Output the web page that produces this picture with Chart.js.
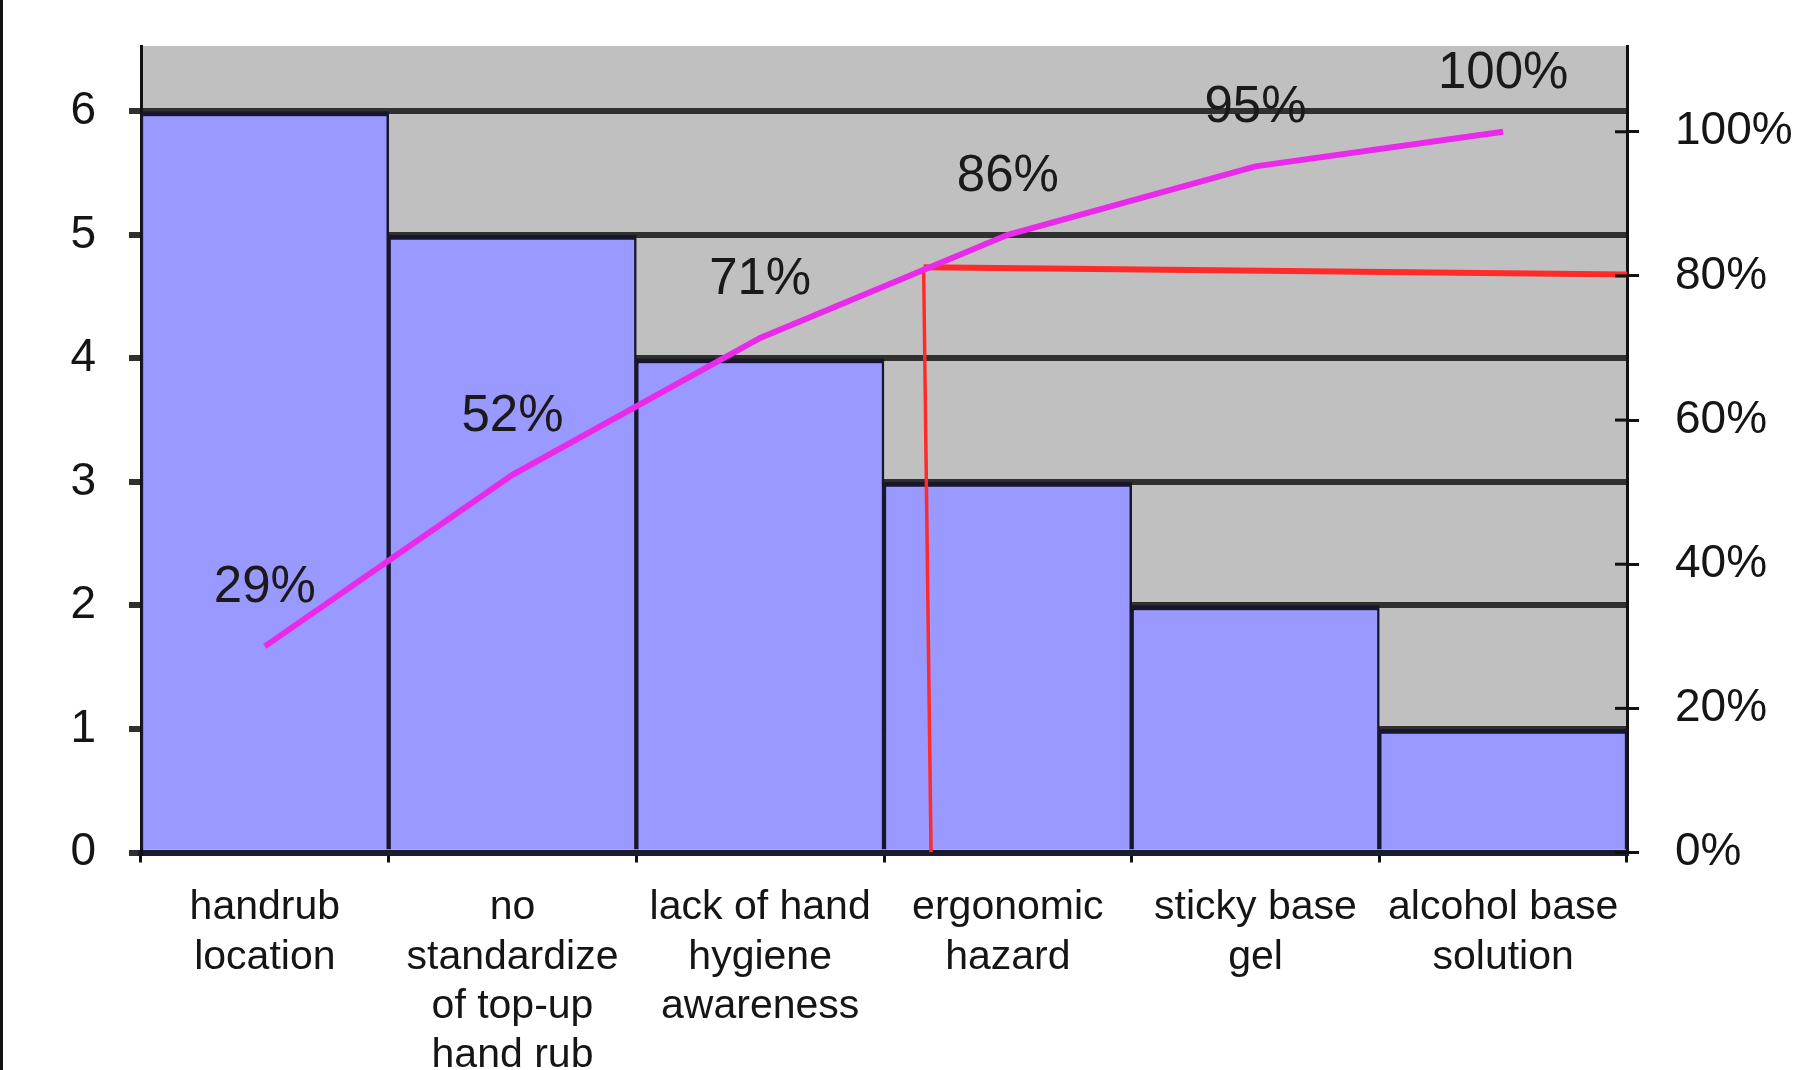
<!DOCTYPE html>
<html>
<head>
<meta charset="utf-8">
<script src="https://cdn.jsdelivr.net/npm/chart.js@4"></script>
<style>
  html, body { margin: 0; padding: 0; background: #ffffff; }
  #wrap { position: relative; width: 1799px; height: 1070px; overflow: hidden; }
  #edge { position: absolute; left: 0; top: 0; width: 3px; height: 1070px; background: #111; }
</style>
</head>
<body>
<div id="wrap">
  <canvas id="c" width="1799" height="1070"></canvas>
  <div id="edge"></div>
</div>
<script>
// ---- data ----
const categories = [
  ["handrub", "location"],
  ["no", "standardize", "of top-up", "hand rub"],
  ["lack of hand", "hygiene", "awareness"],
  ["ergonomic", "hazard"],
  ["sticky base", "gel"],
  ["alcohol base", "solution"]
];
const counts = [6, 5, 4, 3, 2, 1];
const cumulativePct = [28.6, 52.4, 71.4, 85.7, 95.2, 100];
const pctLabels = ["29%", "52%", "71%", "86%", "95%", "100%"];
const cutoffLine = [ {x: 2.69, y: 0}, {x: 2.66, y: 81.2}, {x: 5.5, y: 80.2} ];
const leftTicks = [0, 1, 2, 3, 4, 5, 6];
const rightTicks = [0, 20, 40, 60, 80, 100];

const FONT = "'Liberation Sans', Arial, sans-serif";

const plotBg = {
  id: 'plotBg',
  beforeDraw(chart) {
    const a = chart.chartArea, ctx = chart.ctx;
    ctx.save();
    ctx.fillStyle = '#c0c0c0';
    ctx.fillRect(a.left, a.top, a.right - a.left, a.bottom - a.top);
    ctx.restore();
  }
};

// inner half of the crossing tick marks on the right axis
const innerTicks = {
  id: 'innerTicks',
  afterDatasetsDraw(chart) {
    const s = chart.scales.y2, ctx = chart.ctx;
    ctx.save();
    ctx.strokeStyle = '#111';
    ctx.lineWidth = 3;
    s.ticks.forEach(t => {
      const y = s.getPixelForValue(t.value);
      ctx.beginPath();
      ctx.moveTo(s.left - 12, y);
      ctx.lineTo(s.left, y);
      ctx.stroke();
    });
    ctx.restore();
  }
};

const pctLabelPlugin = {
  id: 'pctLabels',
  afterDatasetsDraw(chart) {
    const meta = chart.getDatasetMeta(1);
    const ctx = chart.ctx;
    ctx.save();
    ctx.font = '51px ' + FONT;
    ctx.fillStyle = '#1a1a1a';
    ctx.textAlign = 'center';
    ctx.textBaseline = 'middle';
    meta.data.forEach((pt, i) => {
      ctx.fillText(pctLabels[i], pt.x, pt.y - 58);
    });
    ctx.restore();
  }
};

function noPad(s) { s.paddingTop = 0; s.paddingBottom = 0; s.paddingLeft = 0; s.paddingRight = 0; }

new Chart(document.getElementById('c'), {
  type: 'bar',
  data: {
    labels: categories,
    datasets: [
      {
        type: 'bar',
        data: counts,
        backgroundColor: '#9999ff',
        borderColor: '#16162c',
        borderWidth: { top: 5, left: 2.5, right: 2.5, bottom: 0 },
        categoryPercentage: 1.0,
        barPercentage: 1.0,
        grouped: false,
        xAxisID: 'x',
        yAxisID: 'y',
        order: 3
      },
      {
        type: 'line',
        data: cumulativePct,
        borderColor: '#ea2aea',
        borderWidth: 6,
        pointRadius: 0,
        tension: 0,
        fill: false,
        xAxisID: 'x',
        yAxisID: 'y2',
        order: 1
      },
      {
        type: 'line',
        data: cutoffLine,
        borderColor: '#ff2a2a',
        borderWidth: 6,
        segment: { borderWidth: (c) => c.p0DataIndex === 0 ? 3.5 : 6 },
        pointRadius: 0,
        tension: 0,
        fill: false,
        xAxisID: 'x2',
        yAxisID: 'y2',
        order: 2
      }
    ]
  },
  options: {
    responsive: false,
    animation: false,
    events: [],
    layout: { padding: { top: 46, left: 0, right: 0, bottom: 0 } },
    plugins: { legend: { display: false }, tooltip: { enabled: false } },
    scales: {
      x: {
        type: 'category',
        offset: true,
        grid: { display: true, drawOnChartArea: false, offset: true, color: '#111', lineWidth: 3, tickLength: 10 },
        border: { display: true, color: '#1a1a33', width: 6 },
        ticks: { color: '#151515', font: { family: FONT, size: 41, lineHeight: 1.2 }, padding: 21, maxRotation: 0, autoSkip: false },
        afterFit(s) { s.height = 217.5; noPad(s); }
      },
      x2: {
        type: 'linear',
        display: false,
        offset: false,
        min: -0.5,
        max: 5.5
      },
      y: {
        type: 'linear',
        position: 'left',
        min: 0,
        max: 6.53,
        ticks: { stepSize: 1, color: '#151515', font: { family: FONT, size: 46 }, padding: 33 },
        afterBuildTicks(s) { s.ticks = leftTicks.map(v => ({ value: v })); },
        grid: { color: '#303030', lineWidth: 6, tickLength: 12, drawTicks: true },
        border: { display: true, color: '#111', width: 3 },
        afterFit(s) { s.width = 141; noPad(s); }
      },
      y2: {
        type: 'linear',
        position: 'right',
        min: 0,
        max: 111.9,
        ticks: { stepSize: 20, color: '#151515', font: { family: FONT, size: 46 }, padding: 36,
                 callback: (v) => v + '%' },
        afterBuildTicks(s) { s.ticks = rightTicks.map(v => ({ value: v })); },
        grid: { drawOnChartArea: false, color: '#111', lineWidth: 3, tickLength: 12 },
        border: { display: true, color: '#111', width: 3 },
        afterFit(s) { s.width = 172; noPad(s); }
      }
    }
  },
  plugins: [plotBg, innerTicks, pctLabelPlugin]
});
</script>
</body>
</html>
